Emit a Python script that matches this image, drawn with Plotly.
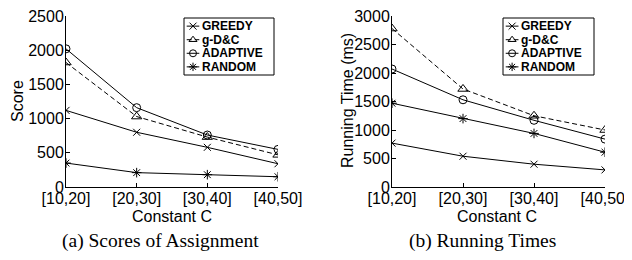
import plotly.graph_objects as go

categories = ["[10,20]", "[20,30]", "[30,40]", "[40,50]"]
series_names = ["GREEDY", "g-D&C", "ADAPTIVE", "RANDOM"]

score_greedy = [1120, 800, 580, 340]
score_gdc = [1820, 1030, 730, 470]
score_adaptive = [2020, 1160, 760, 550]
score_random = [350, 210, 180, 150]

time_greedy = [770, 540, 400, 300]
time_gdc = [2780, 1720, 1250, 1000]
time_adaptive = [2070, 1530, 1170, 840]
time_random = [1470, 1200, 940, 610]

score_ticks = [0, 500, 1000, 1500, 2000, 2500]
time_ticks = [0, 500, 1000, 1500, 2000, 2500, 3000]

symbols = ["x-thin-open", "triangle-up-open", "circle-open", "asterisk-open"]
dashes = ["solid", "5px,3px", "solid", "solid"]
sizes = [7, 9, 8, 8]

W, H = 632, 260
OFF = 8  # the page body margin shifts the plot div inside the browser window
SANS = "Liberation Sans, Arial, sans-serif"
SERIF = "Liberation Serif, Times New Roman, serif"


def fx(p):
    return (p - OFF) / W


def fy(p):
    return 1 - (p - OFF) / H


def px_x(a, b):
    return [fx(a), fx(b)]


def px_y(top, bottom):
    return [fy(bottom), fy(top)]


fig = go.Figure()

panels = [
    ("x", "y", [score_greedy, score_gdc, score_adaptive, score_random]),
    ("x2", "y2", [time_greedy, time_gdc, time_adaptive, time_random]),
]

for xa, ya, data in panels:
    for i, vals in enumerate(data):
        fig.add_trace(go.Scatter(
            x=categories, y=vals, xaxis=xa, yaxis=ya,
            mode="lines+markers", name=series_names[i], showlegend=False,
            line=dict(color="black", width=1, dash=dashes[i]),
            marker=dict(symbol=symbols[i], size=sizes[i], color="black",
                        line=dict(color="black", width=1)),
        ))

# compact legends (one per panel), on hidden helper axes
legend_axes = [("x3", "y3"), ("x4", "y4")]
for xa, ya in legend_axes:
    for i, name in enumerate(series_names):
        k = i + 1
        fig.add_trace(go.Scatter(
            x=[0.03, 0.17], y=[k, k], xaxis=xa, yaxis=ya, mode="lines",
            showlegend=False, hoverinfo="skip",
            line=dict(color="black", width=1, dash=dashes[i])))
        fig.add_trace(go.Scatter(
            x=[0.10], y=[k], xaxis=xa, yaxis=ya, mode="markers",
            showlegend=False, hoverinfo="skip",
            marker=dict(symbol=symbols[i], size=7, color="black",
                        line=dict(color="black", width=1))))
        fig.add_annotation(x=0.19, y=k, xref=xa, yref=ya, text=name,
                           showarrow=False, xanchor="left", yanchor="middle",
                           borderpad=0,
                           font=dict(family=SANS, size=12, color="black", weight="bold"))
    fig.add_shape(type="rect", xref=xa + " domain", yref=ya + " domain",
                  x0=0, x1=1, y0=0, y1=1, line=dict(color="black", width=1))

ydom = px_y(16, 187)
tickfont = dict(family=SANS, size=16, color="black")
common_x = dict(type="category", range=[0, 3], showline=True, linecolor="black",
                linewidth=1, ticks="inside", ticklen=4, tickcolor="black",
                tickfont=tickfont, showgrid=False, zeroline=False,
                ticklabelstandoff=-3, ticklabeloverflow="allow", automargin=False)
common_y = dict(showline=True, linecolor="black", linewidth=1, ticks="inside",
                ticklen=4, tickcolor="black", tickfont=tickfont,
                ticklabelstandoff=-2, ticklabeloverflow="allow",
                showgrid=False, zeroline=False, automargin=False, domain=ydom)

fig.update_layout(
    width=W, height=H,
    margin=dict(l=0, r=0, t=0, b=0),
    paper_bgcolor="white", plot_bgcolor="white",
    showlegend=False,
    xaxis=dict(common_x, domain=px_x(66, 278), anchor="y"),
    xaxis2=dict(common_x, domain=px_x(392, 605), anchor="y2"),
    yaxis=dict(common_y, range=[0, 2500], tickvals=score_ticks, anchor="x"),
    yaxis2=dict(common_y, range=[0, 3000], tickvals=time_ticks, anchor="x2"),
    xaxis3=dict(domain=px_x(184, 274), range=[0, 1], visible=False, anchor="y3", fixedrange=True),
    yaxis3=dict(domain=px_y(18, 75), range=[4.6, 0.4], visible=False, anchor="x3", fixedrange=True),
    xaxis4=dict(domain=px_x(503, 594), range=[0, 1], visible=False, anchor="y4", fixedrange=True),
    yaxis4=dict(domain=px_y(18, 75), range=[4.6, 0.4], visible=False, anchor="x4", fixedrange=True),
)

title_font = dict(family=SANS, size=16, color="black")
texts = [
    ("Score", 17, 101, -90, title_font),
    ("Running Time (ms)", 347, 101, -90, title_font),
    ("Constant C", 172, 216, 0, title_font),
    ("Constant C", 497, 216, 0, title_font),
    ("(a) Scores of Assignment", 160, 241, 0, dict(family=SERIF, size=19.5, color="black")),
    ("(b) Running Times", 482, 241, 0, dict(family=SERIF, size=19.5, color="black")),
]
for t, x, y, ang, f in texts:
    fig.add_annotation(x=fx(x), y=fy(y), xref="paper", yref="paper", text=t,
                       showarrow=False, xanchor="center", yanchor="middle",
                       textangle=ang, borderpad=0, font=f)

fig.write_html("out.html")
